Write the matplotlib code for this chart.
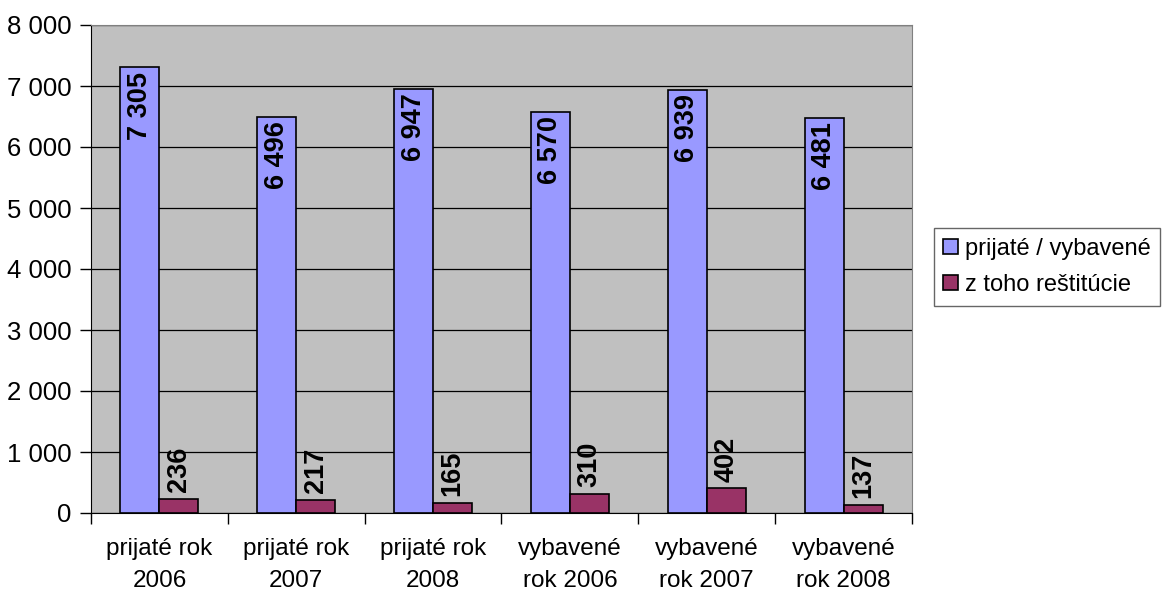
import matplotlib.pyplot as plt
import numpy as np
from matplotlib.ticker import FuncFormatter, FixedLocator

plt.rcParams['font.family'] = ['Liberation Sans', 'DejaVu Sans']

categories = ['prijaté rok\n2006', 'prijaté rok\n2007', 'prijaté rok\n2008',
              'vybavené\nrok 2006', 'vybavené\nrok 2007', 'vybavené\nrok 2008']
prijate = [7305, 6496, 6947, 6570, 6939, 6481]
restitucie = [236, 217, 165, 310, 402, 137]
series_names = ['prijaté / vybavené', 'z toho reštitúcie']


def fmt(v):
    return f"{int(v):,}".replace(',', ' ')


fig = plt.figure(figsize=(11.62, 5.92), dpi=100)
ax = fig.add_axes([91 / 1162, 1 - 513 / 592, (912 - 91) / 1162, (513 - 25) / 592])
ax.set_facecolor('#C0C0C0')

x = np.arange(len(categories))
w = 0.285
b1 = ax.bar(x - w / 2, prijate, w, color='#9999FF', edgecolor='black', linewidth=1.2,
            label=series_names[0], zorder=3)
b2 = ax.bar(x + w / 2, restitucie, w, color='#993366', edgecolor='black', linewidth=1.2,
            label=series_names[1], zorder=3)

for rect, v in zip(b1, prijate):
    ax.annotate(fmt(v), (rect.get_x() + rect.get_width() / 2, v), xytext=(0, -3),
                textcoords='offset points', rotation=90, ha='center', va='top',
                fontsize=19.5, fontweight='bold', zorder=4)
for rect, v in zip(b2, restitucie):
    ax.annotate(fmt(v), (rect.get_x() + rect.get_width() / 2, v), xytext=(0, 5),
                textcoords='offset points', rotation=90, ha='center', va='bottom',
                fontsize=19.5, fontweight='bold', zorder=4)

ax.set_xlim(-0.5, len(categories) - 0.5)
ax.set_ylim(0, 8000)
ax.set_yticks(np.arange(0, 8001, 1000))
ax.yaxis.set_major_formatter(FuncFormatter(lambda v, p: fmt(v)))
ax.yaxis.grid(True, color='black', linewidth=0.9, zorder=1)
ax.tick_params(axis='y', length=8, width=1, pad=6, labelsize=18.5)

ax.xaxis.set_major_locator(FixedLocator(np.arange(-0.5, len(categories), 1.0)))
ax.xaxis.set_major_formatter(FuncFormatter(lambda v, p: ''))
ax.xaxis.set_minor_locator(FixedLocator(x))
ax.set_xticklabels(categories, minor=True)
ax.tick_params(axis='x', which='major', length=8, width=1)
ax.tick_params(axis='x', which='minor', length=0, pad=18, labelsize=17.5)
for lab in ax.get_xticklabels(minor=True):
    lab.set_linespacing(1.6)

for s in ['top', 'right']:
    ax.spines[s].set_color('#808080')
ax.spines['left'].set_color('black')
ax.spines['bottom'].set_color('black')

leg = fig.legend(handles=[b1, b2], loc='center left', bbox_to_anchor=(934 / 1162, 1 - 267 / 592),
                 fontsize=17, frameon=True, fancybox=False, edgecolor='#404040',
                 handlelength=0.6, handleheight=0.6, handletextpad=0.3,
                 borderpad=0.4, labelspacing=0.6, borderaxespad=0)
leg.get_frame().set_linewidth(1.0)

fig.savefig('out.png', dpi=100)
